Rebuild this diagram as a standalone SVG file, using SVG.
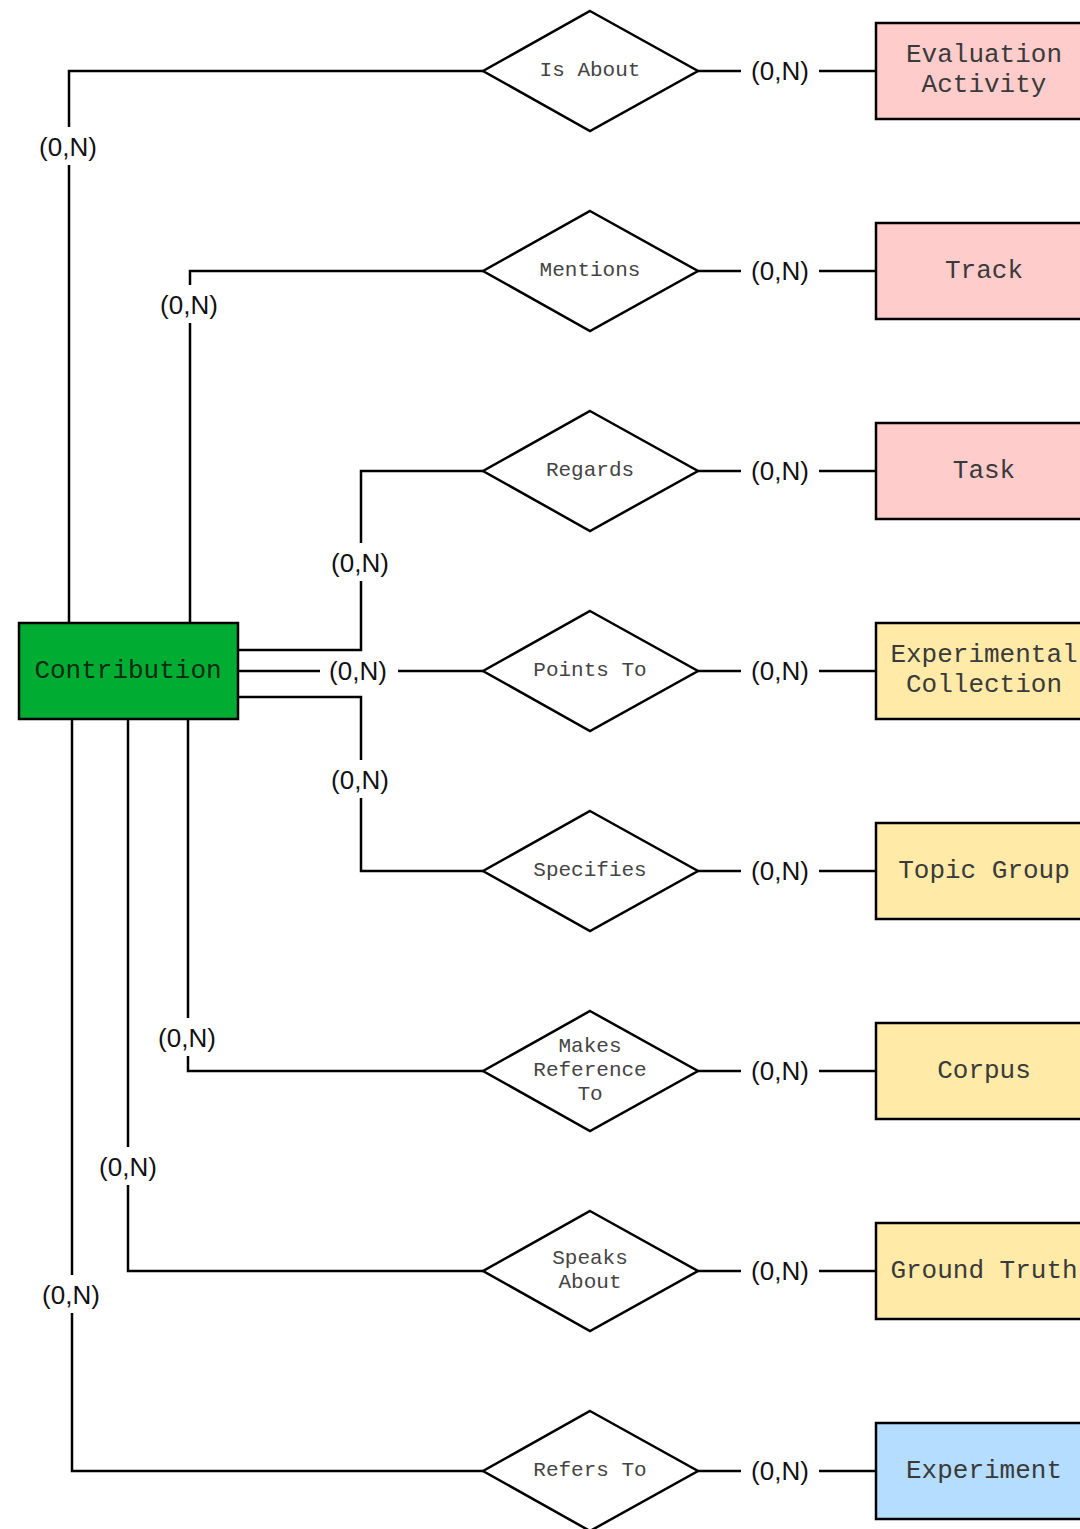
<svg xmlns="http://www.w3.org/2000/svg" width="1080" height="1529" viewBox="0 0 1080 1529">
<style>
.edge{fill:none;stroke:#000;stroke-width:2.5}
.dia{fill:#fff;stroke:#000;stroke-width:2.5}
.ent{stroke:#000;stroke-width:2.5}
.pink{fill:#ffcccc}
.yel{fill:#ffeaa8}
.blue{fill:#b5ddff}
.green{fill:#00ad33}
.et{font-family:"Liberation Mono","Courier New",monospace;font-size:26px;fill:#3a3a3a;text-anchor:middle}
.dt{font-family:"Liberation Mono","Courier New",monospace;font-size:21px;fill:#444;text-anchor:middle}
.lbl{font-family:"Liberation Sans",Arial,sans-serif;font-size:26px;fill:#111;text-anchor:middle}
.lbg{fill:#fff}
</style>
<rect width="1080" height="1529" fill="#fff"/>
<g id="connectors">
<path class="edge" d="M69,623 V71 H483"/>
<path class="edge" d="M190,623 V271 H483"/>
<path class="edge" d="M238,650 H361 V471 H483"/>
<path class="edge" d="M238,671 H483"/>
<path class="edge" d="M238,697 H361 V871 H483"/>
<path class="edge" d="M188,719 V1071 H483"/>
<path class="edge" d="M128,719 V1271 H483"/>
<path class="edge" d="M72,719 V1471 H483"/>
<path class="edge" d="M698,71 H876 M698,271 H876 M698,471 H876 M698,671 H876 M698,871 H876 M698,1071 H876 M698,1271 H876 M698,1471 H876"/>
<g id="labels">
<rect class="lbg" x="39" y="127" width="60" height="38"/><text class="lbl" x="68" y="156">(0,N)</text>
<rect class="lbg" x="160" y="285" width="60" height="38"/><text class="lbl" x="189" y="314">(0,N)</text>
<rect class="lbg" x="331" y="543" width="60" height="38"/><text class="lbl" x="360" y="572">(0,N)</text>
<rect class="lbg" x="320" y="652" width="78" height="38"/><text class="lbl" x="358" y="680">(0,N)</text>
<rect class="lbg" x="331" y="760" width="60" height="38"/><text class="lbl" x="360" y="789">(0,N)</text>
<rect class="lbg" x="158" y="1018" width="60" height="38"/><text class="lbl" x="187" y="1047">(0,N)</text>
<rect class="lbg" x="99" y="1147" width="60" height="38"/><text class="lbl" x="128" y="1176">(0,N)</text>
<rect class="lbg" x="42" y="1275" width="60" height="38"/><text class="lbl" x="71" y="1304">(0,N)</text>
<rect class="lbg" x="741" y="52" width="78" height="38"/><text class="lbl" x="780" y="80">(0,N)</text>
<rect class="lbg" x="741" y="252" width="78" height="38"/><text class="lbl" x="780" y="280">(0,N)</text>
<rect class="lbg" x="741" y="452" width="78" height="38"/><text class="lbl" x="780" y="480">(0,N)</text>
<rect class="lbg" x="741" y="652" width="78" height="38"/><text class="lbl" x="780" y="680">(0,N)</text>
<rect class="lbg" x="741" y="852" width="78" height="38"/><text class="lbl" x="780" y="880">(0,N)</text>
<rect class="lbg" x="741" y="1052" width="78" height="38"/><text class="lbl" x="780" y="1080">(0,N)</text>
<rect class="lbg" x="741" y="1252" width="78" height="38"/><text class="lbl" x="780" y="1280">(0,N)</text>
<rect class="lbg" x="741" y="1452" width="78" height="38"/><text class="lbl" x="780" y="1480">(0,N)</text>
</g>
</g>
<g id="contribution"><rect class="ent green" x="19" y="623" width="219" height="96"/><text class="et" x="128" y="678" style="fill:#0a2a12">Contribution</text></g>
<g id="is-about"><polygon class="dia" points="590,11 698,71 590,131 483,71"/><text class="dt" x="590" y="76">Is About</text></g>
<g id="mentions"><polygon class="dia" points="590,211 698,271 590,331 483,271"/><text class="dt" x="590" y="276">Mentions</text></g>
<g id="regards"><polygon class="dia" points="590,411 698,471 590,531 483,471"/><text class="dt" x="590" y="476">Regards</text></g>
<g id="points-to"><polygon class="dia" points="590,611 698,671 590,731 483,671"/><text class="dt" x="590" y="676">Points To</text></g>
<g id="specifies"><polygon class="dia" points="590,811 698,871 590,931 483,871"/><text class="dt" x="590" y="876">Specifies</text></g>
<g id="makes-reference-to"><polygon class="dia" points="590,1011 698,1071 590,1131 483,1071"/><text class="dt" x="590" y="1052">Makes</text><text class="dt" x="590" y="1076">Reference</text><text class="dt" x="590" y="1100">To</text></g>
<g id="speaks-about"><polygon class="dia" points="590,1211 698,1271 590,1331 483,1271"/><text class="dt" x="590" y="1264">Speaks</text><text class="dt" x="590" y="1288">About</text></g>
<g id="refers-to"><polygon class="dia" points="590,1411 698,1471 590,1531 483,1471"/><text class="dt" x="590" y="1476">Refers To</text></g>
<g id="evaluation-activity"><rect class="ent pink" x="876" y="23" width="218" height="96"/><text class="et" x="984" y="62">Evaluation</text><text class="et" x="984" y="92">Activity</text></g>
<g id="track"><rect class="ent pink" x="876" y="223" width="218" height="96"/><text class="et" x="984" y="278">Track</text></g>
<g id="task"><rect class="ent pink" x="876" y="423" width="218" height="96"/><text class="et" x="984" y="478">Task</text></g>
<g id="experimental-collection"><rect class="ent yel" x="876" y="623" width="218" height="96"/><text class="et" x="984" y="662">Experimental</text><text class="et" x="984" y="692">Collection</text></g>
<g id="topic-group"><rect class="ent yel" x="876" y="823" width="218" height="96"/><text class="et" x="984" y="878">Topic Group</text></g>
<g id="corpus"><rect class="ent yel" x="876" y="1023" width="218" height="96"/><text class="et" x="984" y="1078">Corpus</text></g>
<g id="ground-truth"><rect class="ent yel" x="876" y="1223" width="218" height="96"/><text class="et" x="984" y="1278">Ground Truth</text></g>
<g id="experiment"><rect class="ent blue" x="876" y="1423" width="218" height="96"/><text class="et" x="984" y="1478">Experiment</text></g>
</svg>
